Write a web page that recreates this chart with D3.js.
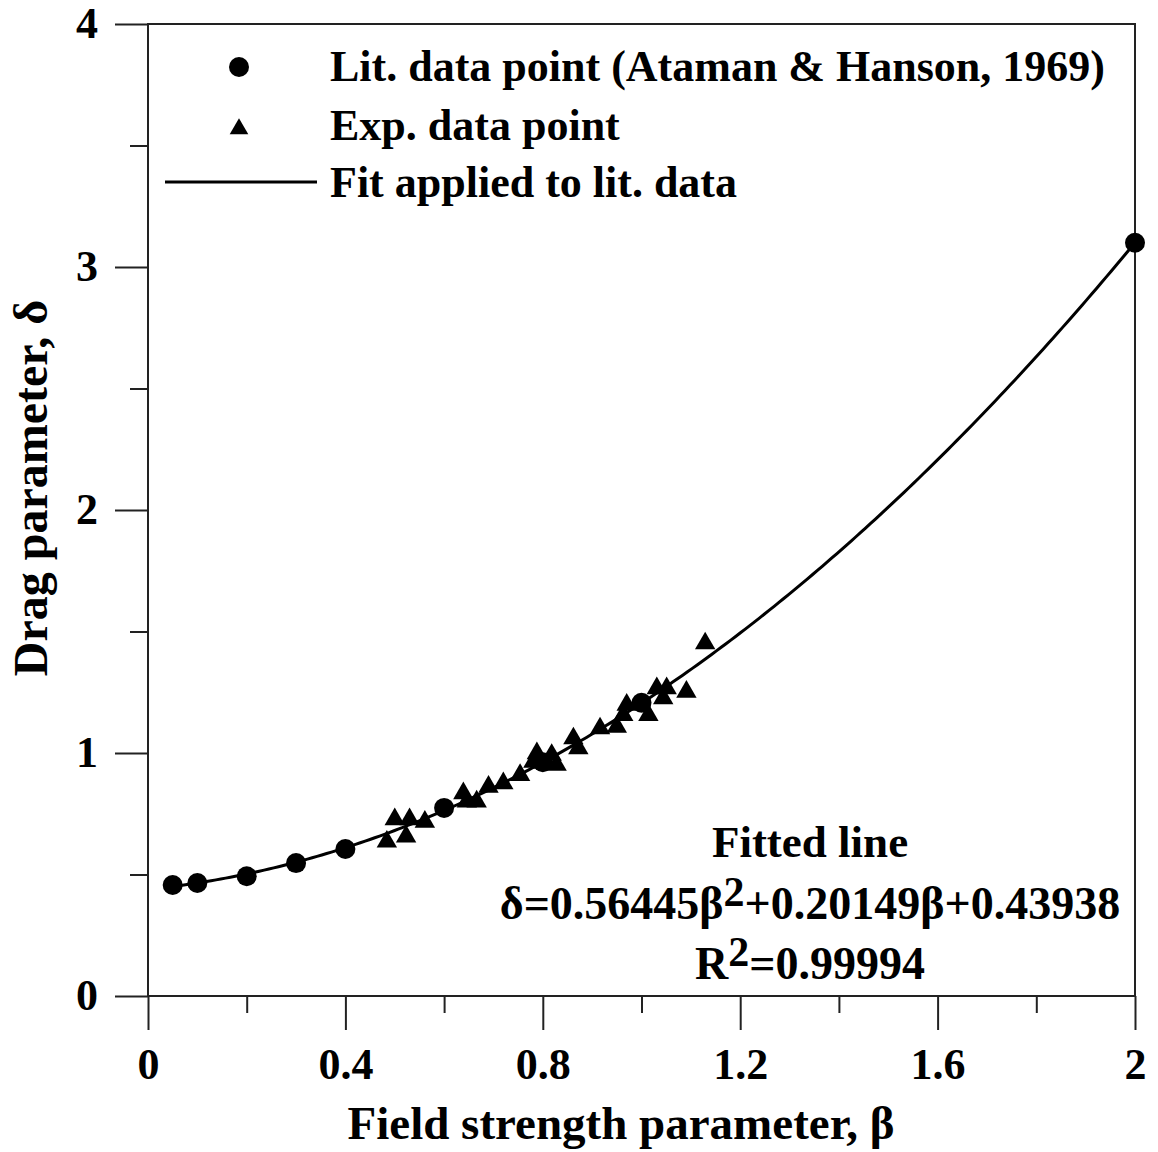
<!DOCTYPE html>
<html>
<head>
<meta charset="utf-8">
<script src="https://cdn.jsdelivr.net/npm/d3@7"></script>
<style>
  html, body { margin: 0; padding: 0; background: #fff; }
  svg { display: block; }
  text { font-family: "Liberation Serif", "Times New Roman", serif; font-weight: bold; fill: #000; }
</style>
</head>
<body>
<svg id="chart" width="1158" height="1152"></svg>
<script>
// ---- Data ----
const litBeta  = [0.05, 0.1, 0.2, 0.3, 0.4, 0.6, 0.8, 1.0, 2.0];
const litDelta = [0.457, 0.465, 0.493, 0.547, 0.605, 0.774, 0.962, 1.207, 3.10];

const expBeta  = [0.484, 0.523, 0.500, 0.530, 0.561, 0.639, 0.646, 0.666, 0.690, 0.720,
                  0.754, 0.781, 0.788, 0.818, 0.794, 0.828, 0.862, 0.872, 0.916, 0.950,
                  0.963, 0.970, 1.014, 1.031, 1.051, 1.044, 1.091, 1.129];
const expDelta = [0.635, 0.656, 0.727, 0.727, 0.717, 0.834, 0.800, 0.800, 0.861, 0.875,
                  0.909, 0.964, 0.999, 0.992, 0.959, 0.951, 1.060, 1.019, 1.101, 1.108,
                  1.156, 1.198, 1.156, 1.266, 1.266, 1.225, 1.252, 1.451];

// Fit coefficients shown on the chart: delta = a*b^2 + b1*b + c
const fitCoef = [0.56445, 0.20149, 0.43938];
const fitRange = [0.05, 2.0];

const xMajorTicks = [0, 0.4, 0.8, 1.2, 1.6, 2];
const xMinorTicks = [0.2, 0.6, 1.0, 1.4, 1.8];
const xTickLabels = ["0", "0.4", "0.8", "1.2", "1.6", "2"];
const yMajorTicks = [0, 1, 2, 3, 4];
const yMinorTicks = [0.5, 1.5, 2.5, 3.5];
const yTickLabels = ["0", "1", "2", "3", "4"];

const legendLabels = ["Lit. data point (Ataman & Hanson, 1969)", "Exp. data point", "Fit applied to lit. data"];

// ---- Layout ----
const svg = d3.select("#chart");
const plot = { left: 148, right: 1135, top: 24, bottom: 996 };

const x = d3.scaleLinear().domain([0, 2]).range([plot.left, plot.right]);
const y = d3.scaleLinear().domain([0, 4]).range([plot.bottom, plot.top]);

const axisColor = "#222";

// frame
svg.append("rect")
  .attr("x", plot.left).attr("y", plot.top)
  .attr("width", plot.right - plot.left).attr("height", plot.bottom - plot.top)
  .attr("fill", "none").attr("stroke", axisColor).attr("stroke-width", 2);

// Axes
function styleAxis(g) {
  g.select(".domain").remove();
  g.selectAll(".tick line").attr("stroke", axisColor).attr("stroke-width", 2);
}

const fmtX = (d) => xTickLabels[xMajorTicks.indexOf(d)];
const fmtY = (d) => yTickLabels[yMajorTicks.indexOf(d)];

svg.append("g").attr("transform", `translate(0,${plot.bottom})`)
  .call(d3.axisBottom(x).tickValues(xMajorTicks).tickSize(34).tickPadding(40).tickFormat(fmtX))
  .call(styleAxis)
  .call(g => g.selectAll(".tick text").attr("font-size", 44).attr("font-family", "Liberation Serif").attr("font-weight", "bold").attr("fill", "#000").attr("dy", "0.2em"));

svg.append("g").attr("transform", `translate(0,${plot.bottom})`)
  .call(d3.axisBottom(x).tickValues(xMinorTicks).tickSize(17).tickFormat(""))
  .call(styleAxis);

svg.append("g").attr("transform", `translate(${plot.left},0)`)
  .call(d3.axisLeft(y).tickValues(yMajorTicks).tickSize(33).tickPadding(17).tickFormat(fmtY))
  .call(styleAxis)
  .call(g => g.selectAll(".tick text").attr("font-size", 44).attr("font-family", "Liberation Serif").attr("font-weight", "bold").attr("fill", "#000").attr("dy", "0.3em"));

svg.append("g").attr("transform", `translate(${plot.left},0)`)
  .call(d3.axisLeft(y).tickValues(yMinorTicks).tickSize(18).tickFormat(""))
  .call(styleAxis);

// Axis titles
svg.append("text")
  .attr("x", 621).attr("y", 1139)
  .attr("text-anchor", "middle").attr("font-size", 47)
  .text("Field strength parameter, β");

svg.append("text")
  .attr("transform", "translate(47,488) rotate(-90)")
  .attr("text-anchor", "middle").attr("font-size", 48)
  .text("Drag parameter, δ");

// Fit line
const fitPts = d3.range(0, 201).map(i => {
  const b = fitRange[0] + (fitRange[1] - fitRange[0]) * i / 200;
  return [b, fitCoef[0] * b * b + fitCoef[1] * b + fitCoef[2]];
});
svg.append("path")
  .datum(fitPts)
  .attr("fill", "none").attr("stroke", "#000").attr("stroke-width", 3)
  .attr("d", d3.line().x(d => x(d[0])).y(d => y(d[1])));

// Exp data (triangles)
const tri = d3.symbol().type(d3.symbolTriangle).size(180);
svg.append("g").selectAll("path")
  .data(expBeta.map((b, i) => [b, expDelta[i]]))
  .join("path")
  .attr("d", tri)
  .attr("transform", d => `translate(${x(d[0])},${y(d[1])})`)
  .attr("fill", "#000");

// Lit data (circles)
svg.append("g").selectAll("circle")
  .data(litBeta.map((b, i) => [b, litDelta[i]]))
  .join("circle")
  .attr("cx", d => x(d[0])).attr("cy", d => y(d[1]))
  .attr("r", 10).attr("fill", "#000");

// Legend
const lg = svg.append("g");
lg.append("circle").attr("cx", 239).attr("cy", 67).attr("r", 10).attr("fill", "#000");
lg.append("path").attr("d", d3.symbol().type(d3.symbolTriangle).size(150))
  .attr("transform", "translate(239,129)").attr("fill", "#000");
lg.append("line").attr("x1", 165).attr("x2", 317).attr("y1", 182).attr("y2", 182)
  .attr("stroke", "#000").attr("stroke-width", 3);
const legY = [81, 140, 197];
legendLabels.forEach((t, i) => {
  lg.append("text").attr("x", 330).attr("y", legY[i]).attr("font-size", 44).text(t);
});

// Annotation
const ann = svg.append("g").attr("text-anchor", "middle").attr("font-size", 45);
ann.append("text").attr("x", 810).attr("y", 857).text("Fitted line");
const eq = ann.append("text").attr("x", 810).attr("y", 919).attr("font-size", 46);
eq.append("tspan").text("δ=0.56445β");
eq.append("tspan").attr("dy", -13).attr("font-size", 42).text("2");
eq.append("tspan").attr("dy", 13).text("+0.20149β+0.43938");
const r2 = ann.append("text").attr("x", 810).attr("y", 979).attr("font-size", 46);
r2.append("tspan").text("R");
r2.append("tspan").attr("dy", -13).attr("font-size", 42).text("2");
r2.append("tspan").attr("dy", 13).text("=0.99994");
</script>
</body>
</html>
